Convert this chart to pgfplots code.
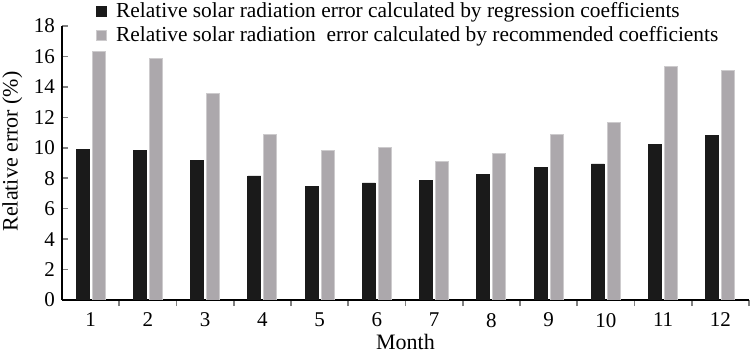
\documentclass[border=0pt]{standalone}
\usepackage{pgfplots}
\pgfplotsset{compat=1.18}
\usepackage{fontspec}
\setmainfont{Liberation Serif}
\definecolor{darkbar}{RGB}{26,26,26}
\definecolor{greybar}{RGB}{172,168,172}
\definecolor{greyedge}{RGB}{205,203,205}
\begin{document}
\begin{tikzpicture}
\useasboundingbox (0,0) rectangle (375pt,177pt);
\begin{axis}[
  at={(31pt,27pt)}, anchor=south west,
  scale only axis, width=343.5pt, height=137pt,
  xmin=0.5, xmax=12.5, ymin=0, ymax=18,
  axis x line*=bottom, axis y line*=left,
  axis line style={-, line width=0.8pt},
  ytick={0,2,...,18},
  xtick={1,...,12},
  minor xtick={1.5,2.5,...,12.5},
  major x tick style={draw=none},
  minor x tick style={line width=0.8pt},
  y tick style={line width=0.8pt},
  tick align=inside,
  major tick length=3pt, minor tick length=3pt,
  tick label style={font=\fontsize{10.5}{12}\selectfont},
  /pgf/number format/assume math mode=true,
  xlabel={Month}, ylabel={Relative error (\%)},
  label style={font=\fontsize{11}{13}\selectfont, inner sep=0pt},
  xlabel style={at={(axis description cs:0.5,0)}, anchor=base, yshift=-24.5pt},
  ylabel style={at={(axis description cs:-0.0873,0.542)}, anchor=north},
  ybar, bar width=6.5pt,
  legend style={draw=none, fill=none, at={(axis description cs:0.0495,1.092)}, anchor=north west,
    font=\fontsize{10.7}{12}\selectfont, row sep=1.9pt, column sep=4pt, inner sep=0pt,
    nodes={inner sep=0.5pt},
    legend cell align=left},
  legend image code/.code={\fill[#1] (0pt,-2.5pt) rectangle (5pt,2.5pt);},
]
\addplot[fill=darkbar, draw=darkbar, bar shift=-4pt] coordinates {
(1,9.88) (2,9.83) (3,9.18) (4,8.15) (5,7.43) (6,7.69) (7,7.83) (8,8.24) (9,8.68) (10,8.94) (11,10.2) (12,10.81)};
\addplot[fill=greybar, draw=greyedge, bar shift=4pt] coordinates {
(1,16.33) (2,15.89) (3,13.56) (4,10.9) (5,9.84) (6,10.0) (7,9.12) (8,9.64) (9,10.9) (10,11.69) (11,15.36) (12,15.08)};
\legend{Relative solar radiation error calculated by regression coefficients,
Relative solar radiation\ \ error calculated by recommended coefficients}
\end{axis}
\end{tikzpicture}
\end{document}
